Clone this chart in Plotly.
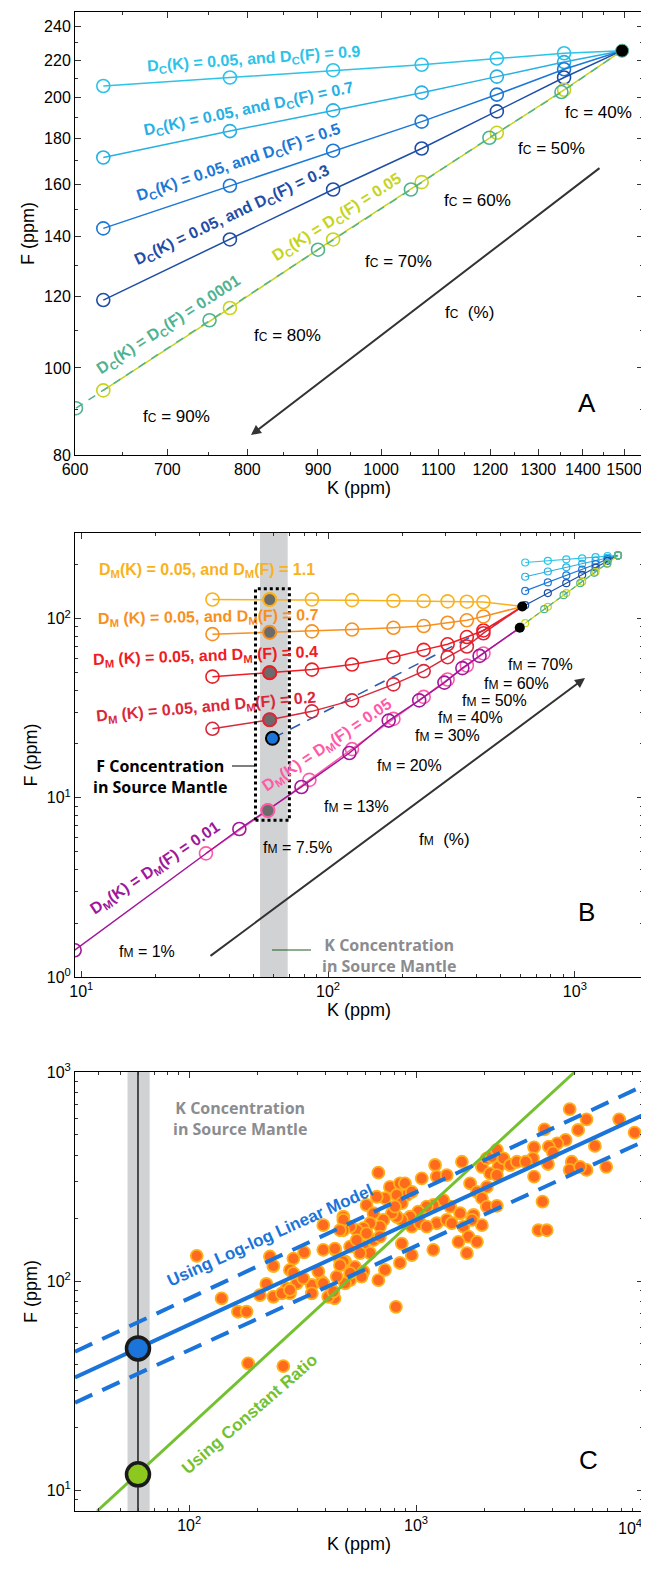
import plotly.graph_objects as go
import numpy as np

# page body has an 8px margin: figure drawn at (8, 8)
W0, H0 = 649, 1569
OX, OY = 8, 8
W, H = W0 - OX, H0 - OY
FONT = "Liberation Sans, Arial, Helvetica, sans-serif"
MYR = "Open Sans, Noto Sans, sans-serif"

# ---------------- Panel A data (crystallization) ----------------
K_A = [629, 777, 923, 1070, 1213, 1357]          # DC(K)=0.05 curves
K_A_t = [601, 751, 900, 1051, 1198, 1351]        # DC=0.0001 curve
K_end, F_end = 1495, 225.5
F_A09 = [206, 210.5, 214.5, 217.5, 221, 224]
F_A07 = [171.5, 183.5, 193.5, 202.5, 211, 219]
F_A05 = [143, 159.5, 174.5, 188, 201.5, 215]
F_A03 = [119, 139, 158, 175.5, 193, 210.5]
F_A_y = [94.4, 116.6, 139, 161, 182.7, 204]
F_A_t = [90.2, 113, 135.4, 158, 180.4, 202.8]

# ---------------- Panel B data (melting) ----------------
K_B = [34, 58, 86, 125, 184, 244, 305, 365, 426]
F_B11 = [128, 128, 128, 127, 126, 125.5, 125, 124.5, 124]
F_B07 = [82, 84, 85, 87, 89, 91, 95, 98, 103]
F_B04 = [47.5, 50, 52, 55.5, 61, 67, 72, 79, 86]
F_B02 = [24.3, 27.3, 30.4, 35, 43, 51, 61, 70, 83]
K_Bp = [32, 57, 84, 125, 184, 244, 305, 365, 426]
F_Bp = [4.9, 8.5, 12.6, 18.7, 27.6, 36.6, 45.8, 54.8, 64]
K_Bu = [9.4, 43.7, 78, 122, 176, 234, 296, 350, 411]
F_Bu = [1.41, 6.7, 11.5, 17.8, 27, 35, 44, 53, 62]
black_hi = (612, 117)
black_lo = (598, 89)
K_Bdash = [60, 490]
F_Bdash = [21.6, 95]
blue_B = (59.5, 21.5)
band_B = [53, 68.6]
box_K = [50.8, 69.7]
box_F = [7.5, 147]

# ---------------- Panel C data ----------------
K_src = 59.5
band_C = [53.5, 67]
K_fit = [31.4, 10000]
F_fit = [34.6, 622]
F_fit_hi = [45.9, 857]
F_fit_lo = [26.2, 464]
K_ratio = [39.3, 5000]
F_ratio = [7.94, 1000]
F_src_fit = 47.6
F_src_ratio = 11.9

pts = [
 (682,330),(767,282),(849,293),(893,293),(910,258),(822,258),(865,236),(957,267),(1059,310),(1213,359),
 (1233,316),(1365,321),(1592,372),(1730,293),(1950,352),(2051,386),(2158,394),(2270,424),(2307,352),(2427,386),
 (2600,359),(2780,372),(2118,327),(2270,321),(2051,282),(1854,267),(1950,249),(2051,227),(2270,229),(1791,207),
 (1618,182),(1702,163),(1538,154),(1854,154),(1675,136),(1950,185),(1762,196),(1563,211),(1413,227),(1318,244),
 (1191,231),(1114,227),(1023,215),(942,203),(865,196),(822,203),(782,211),(807,227),(729,249),(671,253),
 (605,231),(649,211),(718,196),(693,182),(627,189),(586,179),(547,175),(512,182),(478,203),(478,175),
 (440,141),(462,126),(486,124),(538,117),(586,111),(575,105),(512,101),(486,97.5),(432,87.3),(682,101),
 (729,113),(849,122),(957,133),(865,151),(1191,141),(1233,189),(1365,196),(1436,189),(957,182),(1042,189),
 (1114,182),(586,146),(627,136),(566,136),(649,157),(693,163),(605,169),(512,146),(547,157),
 (108,132),(139,82.6),(227,131),(235,118),(288,128),(321,137),(390,185),(390,141),(439,143),(478,196),
 (462,175),(478,124),(278,113),(298,97.5),(269,92.3),(347,95.7),(384,99.3),(219,96.8),(205,85.7),(235,84.1),
 (278,87.3),(425,90.6),(437,82.6),(371,111),(447,105),
 (164,71.3),(179,71.3),(182,40.4),(260,39.2),(256,87.3),(278,90.6),(288,109),(318,103),(347,87.3),(390,97.5),
 (410,84.1),(432,88.9),(462,119),(512,109),(815,75.3),
 (4753,665),(5636,594),(7852,594),(9183,513),(3681,532),(5176,528),(6138,443),(4560,473),(4188,456),(3846,440),
 (4010,411),(3311,436),(3273,386),(3811,363),(4853,372),(4753,340),(5636,340),(5284,352),(6887,352),(3311,316),
 (3606,240),(3459,175),(3767,175),(3041,372)]
K_C = [p[0] for p in pts]
F_C = [p[1] for p in pts]

# colors
C09, C07, C05, C03 = '#2cc3e8', '#27b0e3', '#1c78d6', '#1f4ea6'
CY, CT = '#c6d41c', '#4fb391'
CAM, COR, CR4, CR2 = '#f9b21b', '#f7901e', '#ee1c24', '#d9283a'
CPU, CPK = '#a0179a', '#ff5aa8'
GRAY_FILL = '#6b6b6b'
BAND = '#d1d2d4'
CBL, CGR = '#1a74d9', '#74c130'

fig = go.Figure()

def line(xs, ys, color, ax, width=1.5, dash=None, mode='lines', msize=13, mwidth=1.6, symbol='circle-open'):
    fig.add_trace(go.Scatter(x=xs, y=ys, mode=mode, xaxis=ax[0], yaxis=ax[1],
                             line=dict(color=color, width=width, dash=dash),
                             marker=dict(symbol=symbol, size=msize, color=color, line=dict(width=mwidth, color=color)),
                             showlegend=False, hoverinfo='skip'))

A = ('x', 'y'); B = ('x2', 'y2'); C = ('x3', 'y3')

# ---- Panel A ----
for F, col in [(F_A09, C09), (F_A07, C07), (F_A05, C05), (F_A03, C03), (F_A_y, CY)]:
    line(K_A + [K_end], F + [F_end], col, A)
    line(K_A, F, col, A, mode='markers')
line(K_A_t + [K_end], F_A_t + [F_end], CT, A, dash='8px,7px')
line(K_A_t, F_A_t, CT, A, mode='markers')
fig.add_trace(go.Scatter(x=[K_end], y=[F_end], mode='markers', xaxis='x', yaxis='y',
                         marker=dict(size=13, color='black', line=dict(color=CT, width=1)),
                         showlegend=False, hoverinfo='skip'))

# ---- Panel B ----
fig.add_trace(go.Scatter(x=[band_B[0], band_B[1], band_B[1], band_B[0], band_B[0]],
                         y=[0.5, 0.5, 1000, 1000, 0.5], fill='toself', fillcolor=BAND,
                         mode='lines', line=dict(width=0, color=BAND), xaxis='x2', yaxis='y2',
                         showlegend=False, hoverinfo='skip'))
for F, col in [(F_A09, C09), (F_A07, C07), (F_A05, C05), (F_A03, C03), (F_A_y, CY)]:
    line(K_A + [K_end], F + [F_end], col, B, width=1.2, mode='lines+markers', msize=7, mwidth=1.2)
line(K_A_t + [K_end], F_A_t + [F_end], CT, B, width=1.2, dash='5px,4px', mode='lines+markers', msize=7, mwidth=1.2)
line(K_Bdash, F_Bdash, '#2a5cae', B, width=1.5, dash='11px,8px')
line(K_Bp + [black_lo[0]], F_Bp + [black_lo[1]], CPK, B)
line(K_Bp, F_Bp, CPK, B, mode='markers')
line(K_Bu + [black_lo[0]], F_Bu + [black_lo[1]], CPU, B)
line(K_Bu, F_Bu, CPU, B, mode='markers')
for F, col in [(F_B02, CR2), (F_B04, CR4), (F_B07, COR), (F_B11, CAM)]:
    line(K_B + [black_hi[0]], F + [black_hi[1]], col, B)
    line(K_B, F, col, B, mode='markers')
# filled markers at source-mantle K
fig.add_trace(go.Scatter(x=[K_B[1], K_B[1], K_B[1], K_B[1], K_Bp[1]],
                         y=[F_B11[1], F_B07[1], F_B04[1], F_B02[1], F_Bp[1]],
                         mode='markers', xaxis='x2', yaxis='y2',
                         marker=dict(size=13, color=GRAY_FILL, line=dict(color=[CAM, COR, CR4, CR2, CPK], width=2)),
                         showlegend=False, hoverinfo='skip'))
fig.add_trace(go.Scatter(x=[box_K[0], box_K[1], box_K[1], box_K[0], box_K[0]],
                         y=[box_F[0], box_F[0], box_F[1], box_F[1], box_F[0]],
                         mode='lines', line=dict(color='black', width=3, dash='dot'),
                         xaxis='x2', yaxis='y2', showlegend=False, hoverinfo='skip'))
fig.add_trace(go.Scatter(x=[blue_B[0]], y=[blue_B[1]], mode='markers', xaxis='x2', yaxis='y2',
                         marker=dict(size=13, color=CBL, line=dict(color='black', width=2)),
                         showlegend=False, hoverinfo='skip'))
fig.add_trace(go.Scatter(x=[black_hi[0], black_lo[0]], y=[black_hi[1], black_lo[1]], mode='markers',
                         xaxis='x2', yaxis='y2', marker=dict(size=10, color='black'),
                         showlegend=False, hoverinfo='skip'))

# ---- Panel C ----
fig.add_trace(go.Scatter(x=[band_C[0], band_C[1], band_C[1], band_C[0], band_C[0]],
                         y=[1, 1, 5000, 5000, 1], fill='toself', fillcolor=BAND,
                         mode='lines', line=dict(width=0, color=BAND), xaxis='x3', yaxis='y3',
                         showlegend=False, hoverinfo='skip'))
line([K_src, K_src], [1, 5000], 'black', C, width=1.3)
fig.add_trace(go.Scatter(x=K_C, y=F_C, mode='markers', xaxis='x3', yaxis='y3',
                         marker=dict(size=12, color='#ff6a1f', line=dict(color='#ffb01a', width=1.8)),
                         showlegend=False, hoverinfo='skip'))
line(K_ratio, F_ratio, CGR, C, width=3)
line(K_fit, F_fit, CBL, C, width=4)
line(K_fit, F_fit_hi, CBL, C, width=4, dash='19px,11px')
line(K_fit, F_fit_lo, CBL, C, width=4, dash='19px,11px')
fig.add_trace(go.Scatter(x=[K_src, K_src], y=[F_src_fit, F_src_ratio], mode='markers', xaxis='x3', yaxis='y3',
                         marker=dict(size=23, color=[CBL, '#8cc81e'], line=dict(color='#1a1a1a', width=3.5)),
                         showlegend=False, hoverinfo='skip'))

# ---------------- axes ----------------
def px(x):
    return (x - OX) / W

def py(y):
    return 1 - (y - OY) / H

XD = [px(75), px(643)]
def ydom(top, bot):
    return [py(bot), py(top)]

def axis(rng, dom, anchor, tickvals, ticktext, minor, title):
    return dict(type='log', range=rng, domain=dom, anchor=anchor, automargin=False,
                showline=True, linecolor='black', linewidth=1, mirror='allticks',
                ticks='inside', ticklen=6, tickcolor='#333', tickwidth=1,
                showgrid=False, zeroline=False, tickangle=0,
                tickvals=tickvals, ticktext=ticktext, ticklabeloverflow='allow',
                minor=dict(tickvals=minor, ticks='inside', ticklen=3, tickcolor='#333', showgrid=False),
                tickfont=dict(family=FONT, size=16, color='black'),
                title=dict(text=title, font=dict(family=FONT, size=18, color='black'), standoff=4))

xa_t = list(range(600, 1600, 100))
xa_m = list(range(650, 1550, 50))
ya_t = list(range(80, 260, 20))
ya_m = list(range(90, 250, 20))
sup = lambda e: '10<sup>%d</sup>' % e
minor_dec = lambda lo, hi: [m * 10 ** d for d in range(lo, hi) for m in range(2, 10)]

fig.update_layout(
    width=W, height=H, margin=dict(l=0, r=0, t=0, b=0, pad=0), autosize=False,
    paper_bgcolor='white', plot_bgcolor='white', showlegend=False,
    xaxis=axis([np.log10(600), np.log10(1548)], XD, 'y', xa_t, [str(v) for v in xa_t], xa_m, 'K (ppm)'),
    yaxis=axis([np.log10(80), np.log10(249)], ydom(12, 455), 'x', ya_t, [str(v) for v in ya_t], ya_m, 'F (ppm)'),
    xaxis2=axis([np.log10(9.43), np.log10(1888)], XD, 'y2', [10, 100, 1000], [sup(1), sup(2), sup(3)],
                minor_dec(0, 4), 'K (ppm)'),
    yaxis2=axis([0, np.log10(301)], ydom(533, 977), 'x2', [1, 10, 100], [sup(0), sup(1), sup(2)],
                minor_dec(0, 3), 'F (ppm)'),
    xaxis3=axis([np.log10(31.4), 4], XD, 'y3', [100, 1000, 10000], [sup(2), sup(3), ''],
                minor_dec(1, 4), 'K (ppm)'),
    yaxis3=axis([np.log10(7.94), 3], ydom(1072, 1511), 'x3', [10, 100, 1000], [sup(1), sup(2), sup(3)],
                minor_dec(0, 3), 'F (ppm)'),
)

# ---------------- annotations ----------------
anns = []
def ann(text, x, y, color='black', size=16, angle=0, bold=False, family=FONT, xanchor='center'):
    anns.append(dict(text=('<b>%s</b>' % text) if bold else text, x=px(x), y=py(y),
                     xref='paper', yref='paper', showarrow=False, textangle=angle,
                     xanchor=xanchor, yanchor='middle',
                     font=dict(family=family, size=size, color=color)))

def arrow(tail, tip):
    anns.append(dict(text='', x=px(tip[0]), y=py(tip[1]), xref='paper', yref='paper',
                     ax=tail[0] - tip[0], ay=tail[1] - tip[1], axref='pixel', ayref='pixel',
                     showarrow=True, arrowhead=2, arrowsize=1, arrowwidth=2, arrowcolor='#333'))

DC = 'D<sub>C</sub>'
DM = 'D<sub>M</sub>'
fc = "f<span style='font-size:12px'>C</span>"
fm = "f<span style='font-size:12px'>M</span>"

ann(DC + '(K) = 0.05, and ' + DC + '(F) = 0.9', 254, 60, C09, 16, -4, True)
ann(DC + '(K) = 0.05, and ' + DC + '(F) = 0.7', 249, 110, C07, 16, -11.7, True)
ann(DC + '(K) = 0.05, and ' + DC + '(F) = 0.5', 239.5, 163, C05, 16, -18.5, True)
ann(DC + '(K) = 0.05, and ' + DC + '(F) = 0.3', 232, 215, C03, 16, -25.3, True)
ann(DC + '(K) = ' + DC + '(F) = 0.05', 337, 217, CY, 16, -32.5, True)
ann(DC + '(K) = ' + DC + '(F) = 0.0001', 168, 325, CT, 16, -33, True)
for t, x, y in [('40%', 598, 113), ('50%', 551, 148), ('60%', 477, 200), ('70%', 398, 262),
                ('80%', 287, 335), ('90%', 176, 417)]:
    ann(fc + ' = ' + t, x, y, 'black', 17)
ann(fc + '  (%)', 469, 312, 'black', 17)
ann('A', 587, 403, 'black', 26)
arrow((601, 167), (251, 435))

ann(DM + '(K) = 0.05, and ' + DM + '(F) = 1.1', 207, 570, CAM, 16, 0, True)
ann(DM + ' (K) = 0.05, and ' + DM + '(F) = 0.7', 208, 617, COR, 16, -1, True)
ann(DM + ' (K) = 0.05, and ' + DM + ' (F) = 0.4', 205, 656, CR4, 16, -2, True)
ann(DM + ' (K) = 0.05, and ' + DM + '(F) = 0.2', 206, 708, CR2, 16, -5, True)
ann(DM + '(K) = ' + DM + '(F) = 0.01', 155, 868, CPU, 16, -34, True)
ann(DM + '(K) = ' + DM + '(F) = 0.05', 327, 745, CPK, 16, -34, True)
for t, x, y in [('70%', 540, 664), ('60%', 516, 683), ('50%', 494, 700), ('40%', 470, 717),
                ('30%', 447, 735), ('20%', 410, 765), ('13%', 356, 807), ('7.5%', 297, 847),
                ('1%', 147, 951)]:
    ann(fm + ' = ' + t, x, y, 'black', 16)
ann(fm + '  (%)', 444, 839, 'black', 17)
ann('B', 586, 912, 'black', 26)
arrow((209, 957), (585, 678))
ann('F Concentration<br>in Source Mantle', 160, 776, 'black', 16, 0, True, MYR)
ann('K Concentration<br>in Source Mantle', 389, 955, '#8a8c8f', 16, 0, True, MYR)

ann('K Concentration<br>in Source Mantle', 240, 1118, '#8a8c8f', 16, 0, True, MYR)
ann('Using Log-log Linear Model', 270, 1235, CBL, 17, -24.4, True)
ann('Using Constant Ratio', 249, 1414, CGR, 17, -41, True)
ann('C', 588, 1460, 'black', 26)
# last x tick label of panel C, kept inside the page
ann(sup(4), 644, 1527, 'black', 16, 0, False, FONT, 'right')

shapes = [
    dict(type='line', xref='paper', yref='paper', x0=px(232), x1=px(255), y0=py(766), y1=py(766),
         line=dict(color='black', width=1)),
    dict(type='line', xref='paper', yref='paper', x0=px(272), x1=px(311), y0=py(950), y1=py(950),
         line=dict(color='#1f5a1f', width=1)),
]
fig.update_layout(annotations=anns, shapes=shapes)
fig.write_html('out.html')
